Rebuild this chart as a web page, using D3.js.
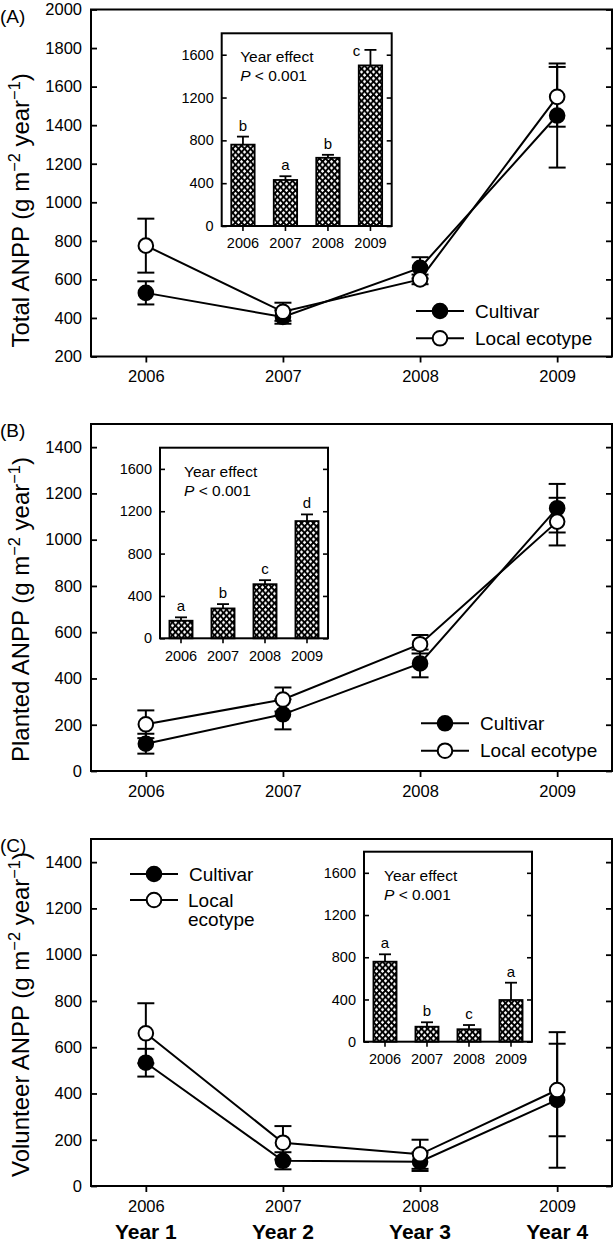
<!DOCTYPE html>
<html><head><meta charset="utf-8">
<script src="https://cdn.jsdelivr.net/npm/d3@7"></script>
<style>
body{margin:0;background:#fff}
svg{display:block}
text{font-family:"Liberation Sans",Arial,Helvetica,sans-serif;fill:#000}
</style>
</head><body>
<svg id="chart" width="614" height="1247"></svg>
<script>
// ---------------- DATA ----------------
const years = [2006, 2007, 2008, 2009];
const yearLabels = ["Year 1", "Year 2", "Year 3", "Year 4"];
const seriesNames = ["Cultivar", "Local ecotype"];

// (A) Total ANPP
const totalCultivar   = [530, 405, 660, 1450];
const totalCultivarSE = [60, 35, 55, 270];
const totalLocal      = [775, 432, 600, 1547];
const totalLocalSE    = [140, 47, 25, 155];
const totalYear       = [760, 430, 637, 1500];
const totalYearSE     = [75, 35, 28, 145];
const totalLetters    = ["b", "a", "b", "c"];
const totalTicks      = [200, 400, 600, 800, 1000, 1200, 1400, 1600, 1800, 2000];

// (B) Planted ANPP
const plantedCultivar   = [118, 245, 465, 1136];
const plantedCultivarSE = [43, 65, 60, 105];
const plantedLocal      = [202, 309, 548, 1078];
const plantedLocalSE    = [60, 52, 40, 103];
const plantedYear       = [166, 282, 511, 1107];
const plantedYearSE     = [32, 41, 38, 63];
const plantedLetters    = ["a", "b", "c", "d"];

// (C) Volunteer ANPP
const volunteerCultivar   = [533, 109, 105, 372];
const volunteerCultivarSE = [60, 37, 40, 293];
const volunteerLocal      = [660, 187, 137, 415];
const volunteerLocalSE    = [130, 72, 63, 200];
const volunteerYear       = [758, 142, 118, 395];
const volunteerYearSE     = [70, 42, 40, 164];
const volunteerLetters    = ["a", "b", "c", "a"];

const plantTicks = [0, 200, 400, 600, 800, 1000, 1200, 1400];
const insetTicks = [0, 400, 800, 1200, 1600];

// ---------------- LAYOUT ----------------
const svg = d3.select("#chart");
const FX0 = 91, FX1 = 612, FH = 347;
const FONT = '"Liberation Sans",Arial,Helvetica,sans-serif';
const fmt = d3.format("d");

// pattern
const defs = svg.append("defs");
const pat = defs.append("pattern").attr("id", "checks")
  .attr("patternUnits", "userSpaceOnUse").attr("width", 6).attr("height", 6.4);
pat.append("rect").attr("width", 6).attr("height", 6.4).attr("fill", "#000");
[[1.5, 1.6], [4.5, 4.8]].forEach(([cx, cy]) => {
  const r = 1.75;
  pat.append("path").attr("d", `M${cx},${cy - r}L${cx + r},${cy}L${cx},${cy + r}L${cx - r},${cy}Z`).attr("fill", "#fff");
});

const panels = [
  { label: "(A)", title: "Total ANPP", top: 9.5, domain: [200, 2000], ticks: totalTicks,
    cult: totalCultivar, cultSE: totalCultivarSE, loc: totalLocal, locSE: totalLocalSE,
    bars: totalYear, barsSE: totalYearSE, letters: totalLetters,
    inset: { x: 221.7, y: 33.3, w: 170, h: 192.7, tx: 18.5 },
    legend: { x: 440, y: 311, dy: 27.3, wrap: false }, letterSide: [0, 0, 0, 1] },
  { label: "(B)", title: "Planted ANPP", top: 424, domain: [0, 1500], ticks: plantTicks,
    cult: plantedCultivar, cultSE: plantedCultivarSE, loc: plantedLocal, locSE: plantedLocalSE,
    bars: plantedYear, barsSE: plantedYearSE, letters: plantedLetters,
    inset: { x: 160, y: 447.7, w: 168, h: 190.6, tx: 24 },
    legend: { x: 445, y: 723.3, dy: 27.4, wrap: false }, letterSide: [0, 0, 0, 0] },
  { label: "(C)", title: "Volunteer ANPP", top: 839, domain: [0, 1500], ticks: plantTicks,
    cult: volunteerCultivar, cultSE: volunteerCultivarSE, loc: volunteerLocal, locSE: volunteerLocalSE,
    bars: volunteerYear, barsSE: volunteerYearSE, letters: volunteerLetters,
    inset: { x: 364, y: 851.7, w: 168, h: 190, tx: 20 },
    legend: { x: 154, y: 874, dy: 26, wrap: true }, letterSide: [0, 0, 0, 0] }
];

const x = d3.scaleLinear().domain([2005.6, 2009.4]).range([FX0, FX1]);

panels.forEach(p => {
  const g = svg.append("g");
  const y = d3.scaleLinear().domain(p.domain).range([p.top + FH, p.top]);
  const bottom = p.top + FH;

  // frame
  g.append("rect").attr("x", FX0).attr("y", p.top).attr("width", FX1 - FX0).attr("height", FH)
    .attr("fill", "none").attr("stroke", "#000").attr("stroke-width", 2);

  // axes
  const left = g.append("g").attr("transform", `translate(${FX0},0)`)
    .call(d3.axisLeft(y).tickValues(p.ticks).tickFormat(fmt).tickSize(-6).tickSizeOuter(0).tickPadding(9));
  const right = g.append("g").attr("transform", `translate(${FX1},0)`)
    .call(d3.axisRight(y).tickValues(p.ticks).tickSize(-6).tickSizeOuter(0).tickFormat(""));
  const bot = g.append("g").attr("transform", `translate(0,${bottom})`)
    .call(d3.axisBottom(x).tickValues(years).tickFormat(fmt).tickSize(6).tickSizeOuter(0).tickPadding(8));
  [left, right, bot].forEach(a => {
    a.select(".domain").remove();
    a.selectAll("line").attr("stroke", "#000").attr("stroke-width", 1.8);
    a.selectAll("text").attr("font-size", 16.5).attr("font-family", FONT);
  });

  // panel label
  g.append("text").attr("x", 0).attr("y", p.top + 13).attr("font-size", 19).text(p.label);

  // y title
  const t = g.append("text").attr("transform", `translate(29,${bottom - 9}) rotate(-90)`)
    .attr("font-size", 24).attr("text-anchor", "start");
  t.append("tspan").text(p.title + " (g m");
  t.append("tspan").attr("font-size", "0.68em").attr("dy", "-0.55em").text("\u22122");
  t.append("tspan").attr("dy", "0.374em").text(" year");
  t.append("tspan").attr("font-size", "0.68em").attr("dy", "-0.55em").text("\u22121");
  t.append("tspan").attr("dy", "0.374em").text(")");

  // series
  const series = [
    { v: p.cult, se: p.cultSE, fill: "#000" },
    { v: p.loc, se: p.locSE, fill: "#fff" }
  ];
  const line = d3.line().x((d, i) => x(years[i])).y(d => y(d));
  series.forEach(s => {
    g.append("path").attr("d", line(s.v)).attr("fill", "none").attr("stroke", "#000").attr("stroke-width", 2);
  });
  series.forEach(s => {
    s.v.forEach((v, i) => {
      const cx = x(years[i]), y0 = y(v - s.se[i]), y1 = y(v + s.se[i]);
      g.append("line").attr("x1", cx).attr("x2", cx).attr("y1", y0).attr("y2", y1).attr("stroke", "#000").attr("stroke-width", 2);
      [y0, y1].forEach(yy => g.append("line").attr("x1", cx - 8.5).attr("x2", cx + 8.5).attr("y1", yy).attr("y2", yy)
        .attr("stroke", "#000").attr("stroke-width", 2));
    });
  });
  series.forEach(s => {
    g.selectAll(null).data(s.v).enter().append("circle")
      .attr("cx", (d, i) => x(years[i])).attr("cy", d => y(d)).attr("r", 7.3)
      .attr("fill", s.fill).attr("stroke", "#000").attr("stroke-width", 2);
  });

  // legend
  const L = p.legend;
  series.forEach((s, k) => {
    const ly = L.y + k * L.dy;
    g.append("line").attr("x1", L.x - 24).attr("x2", L.x + 24).attr("y1", ly).attr("y2", ly)
      .attr("stroke", "#000").attr("stroke-width", 2);
    g.append("circle").attr("cx", L.x).attr("cy", ly).attr("r", 7.3)
      .attr("fill", s.fill).attr("stroke", "#000").attr("stroke-width", 2);
    const name = seriesNames[k];
    if (L.wrap && k === 1) {
      const parts = name.split(" ");
      parts.forEach((pt, j) => g.append("text").attr("x", L.x + 34).attr("y", ly + j * 19).attr("dy", "0.35em")
        .attr("font-size", 19).text(pt));
    } else {
      g.append("text").attr("x", L.x + 35).attr("y", ly).attr("dy", "0.35em").attr("font-size", 19).text(name);
    }
  });

  // inset
  const I = p.inset;
  const ig = g.append("g");
  const ix = d3.scaleBand().domain(years).range([I.x, I.x + I.w]).paddingInner(0.45).paddingOuter(0.225);
  const iy = d3.scaleLinear().domain([0, 1800]).range([I.y + I.h, I.y]);
  ig.append("rect").attr("x", I.x).attr("y", I.y).attr("width", I.w).attr("height", I.h)
    .attr("fill", "#fff");
  ig.selectAll(null).data(p.bars).enter().append("rect")
    .attr("x", (d, i) => ix(years[i])).attr("width", ix.bandwidth())
    .attr("y", d => iy(d)).attr("height", d => iy(0) - iy(d))
    .attr("fill", "url(#checks)").attr("stroke", "#000").attr("stroke-width", 1.8);
  p.bars.forEach((v, i) => {
    const cx = ix(years[i]) + ix.bandwidth() / 2;
    const yt = iy(v + p.barsSE[i]);
    ig.append("line").attr("x1", cx).attr("x2", cx).attr("y1", iy(v)).attr("y2", yt).attr("stroke", "#000").attr("stroke-width", 1.8);
    ig.append("line").attr("x1", cx - 6).attr("x2", cx + 6).attr("y1", yt).attr("y2", yt).attr("stroke", "#000").attr("stroke-width", 1.8);
    const side = p.letterSide[i];
    ig.append("text").attr("x", side ? cx - 14 : cx).attr("y", side ? yt + 6 : yt - 6)
      .attr("text-anchor", "middle").attr("font-size", 15).text(p.letters[i]);
  });
  ig.append("rect").attr("x", I.x).attr("y", I.y).attr("width", I.w).attr("height", I.h)
    .attr("fill", "none").attr("stroke", "#000").attr("stroke-width", 2);
  const il = ig.append("g").attr("transform", `translate(${I.x},0)`)
    .call(d3.axisLeft(iy).tickValues(insetTicks).tickFormat(fmt).tickSize(-5).tickSizeOuter(0).tickPadding(8));
  const ir = ig.append("g").attr("transform", `translate(${I.x + I.w},0)`)
    .call(d3.axisRight(iy).tickValues(insetTicks).tickSize(-5).tickSizeOuter(0).tickFormat(""));
  const ib = ig.append("g").attr("transform", `translate(0,${I.y + I.h})`)
    .call(d3.axisBottom(ix).tickFormat(fmt).tickSize(5).tickSizeOuter(0).tickPadding(7));
  [il, ir, ib].forEach(a => {
    a.select(".domain").remove();
    a.selectAll("line").attr("stroke", "#000").attr("stroke-width", 1.6);
    a.selectAll("text").attr("font-size", 14.5).attr("font-family", FONT);
  });
  ig.append("text").attr("x", I.x + I.tx).attr("y", I.y + 29).attr("font-size", 15.5).text("Year effect");
  const tp = ig.append("text").attr("x", I.x + I.tx).attr("y", I.y + 48).attr("font-size", 15.5);
  tp.append("tspan").attr("font-style", "italic").text("P");
  tp.append("tspan").text(" < 0.001");
});

// Year labels
svg.selectAll(".yl").data(yearLabels).enter().append("text")
  .attr("x", (d, i) => x(years[i])).attr("y", 1239).attr("text-anchor", "middle")
  .attr("font-size", 21).attr("font-weight", "bold").text(d => d);
</script>
</body></html>
